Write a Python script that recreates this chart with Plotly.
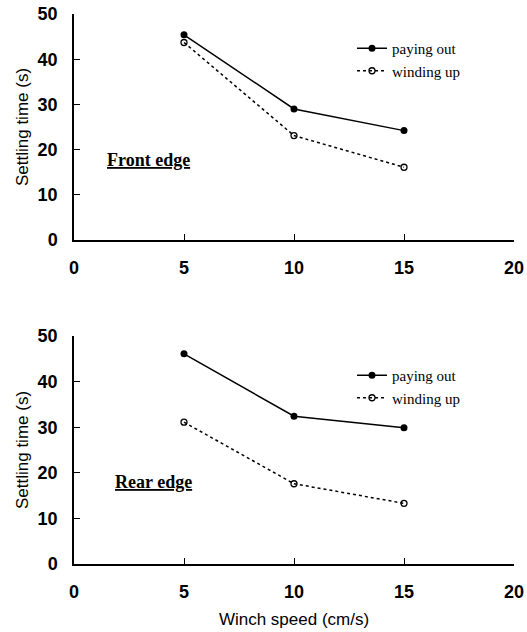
import plotly.graph_objects as go

# Winch speed (cm/s) and settling times (s)
speed = [5, 10, 15]
front_paying_out = [45.4, 29.0, 24.2]
front_winding_up = [43.7, 23.1, 16.1]
rear_paying_out = [46.1, 32.4, 29.9]
rear_winding_up = [31.1, 17.6, 13.3]

x_ticks = [0, 5, 10, 15, 20]
y_ticks = [0, 10, 20, 30, 40, 50]

W, H = 527, 632
sans = "Liberation Sans"
serif = "Liberation Serif"

fig = go.Figure()

def add_pair(paying, winding, xa, ya, leg):
    fig.add_trace(go.Scatter(
        x=speed, y=paying, mode="lines+markers", name="paying out",
        xaxis=xa, yaxis=ya, legend=leg, legendgroup=leg + "a",
        line=dict(color="black", width=1.5),
        marker=dict(symbol="circle", size=7, color="black"),
    ))
    fig.add_trace(go.Scatter(
        x=speed, y=winding, mode="lines+markers", name="winding up",
        xaxis=xa, yaxis=ya, legend=leg, legendgroup=leg + "b",
        line=dict(color="black", width=1.5, dash="dot"),
        marker=dict(symbol="circle-open", size=6, color="black",
                    line=dict(width=1.3, color="black")),
    ))

add_pair(front_paying_out, front_winding_up, "x", "y", "legend")
add_pair(rear_paying_out, rear_winding_up, "x2", "y2", "legend2")

x_dom = [74 / W, 514 / W]
top_dom = [1 - 240 / H, 1 - 14 / H]
bot_dom = [1 - 564 / H, 1 - 336 / H]

axis_common = dict(
    showline=True, linecolor="black", linewidth=1.5,
    ticks="inside", ticklen=6, tickwidth=1.3, tickcolor="black",
    showgrid=False, zeroline=False,
    tickfont=dict(family=sans, size=18, color="black", weight="bold"),
)

xcommon = dict(axis_common, range=[0, 20], tickvals=x_ticks, ticklabelstandoff=11)
ycommon = dict(axis_common, range=[0, 50], tickvals=y_ticks, ticklabelstandoff=11)

ytitle = dict(text="Settling time (s)",
              font=dict(family=sans, size=17, color="black"), standoff=5)

legend_font = dict(family=serif, size=15, color="black")

fig.update_layout(
    width=W, height=H,
    margin=dict(l=0, r=0, t=0, b=0, autoexpand=False),
    paper_bgcolor="white", plot_bgcolor="white",
    showlegend=True,
    xaxis=dict(xcommon, domain=x_dom, anchor="y"),
    yaxis=dict(ycommon, domain=top_dom, anchor="x", title=ytitle),
    xaxis2=dict(xcommon, domain=x_dom, anchor="y2",
                title=dict(text="Winch speed (cm/s)",
                           font=dict(family=sans, size=17, color="black"),
                           standoff=12)),
    yaxis2=dict(ycommon, domain=bot_dom, anchor="x2", title=ytitle),
    legend=dict(x=352 / W, y=1 - 32 / H, xanchor="left", yanchor="top",
                bgcolor="rgba(0,0,0,0)", tracegroupgap=0, font=legend_font),
    legend2=dict(x=352 / W, y=1 - 359 / H, xanchor="left", yanchor="top",
                 bgcolor="rgba(0,0,0,0)", tracegroupgap=0, font=legend_font),
)

label_font = dict(family=serif, size=18, color="black")
fig.add_annotation(x=3.4, y=17.8, xref="x", yref="y",
                   text="<u><b>Front edge</b></u>", showarrow=False, font=label_font)
fig.add_annotation(x=3.6, y=17.9, xref="x2", yref="y2",
                   text="<u><b>Rear edge</b></u>", showarrow=False, font=label_font)

fig.write_html("out.html")
